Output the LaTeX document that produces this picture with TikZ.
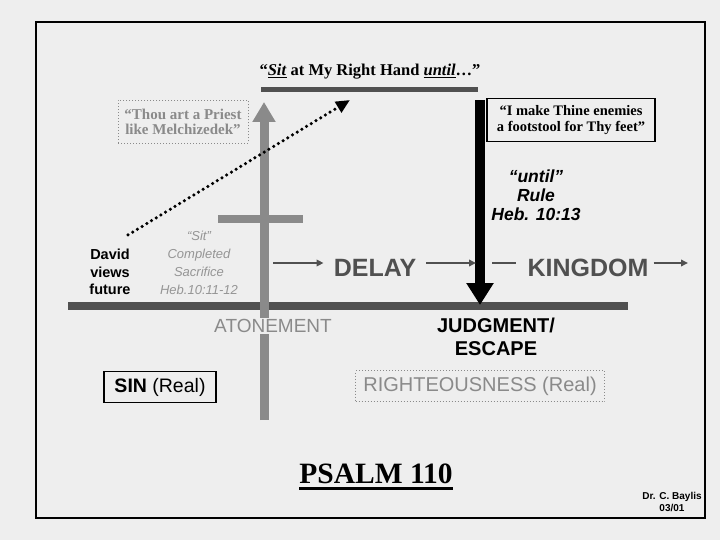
\documentclass[tikz,border=0pt]{standalone}
\usepackage{fontspec}
\setmainfont{Liberation Serif}
\setsansfont{Liberation Sans}
\usetikzlibrary{arrows.meta, positioning, calc}
\definecolor{cpaper}{HTML}{EEEEEE}
\definecolor{cdark}{HTML}{505050}
\definecolor{cmid}{HTML}{8A8A8A}
\definecolor{clight}{HTML}{959595}
\newcommand{\setfs}[2]{\fontsize{#1}{#2}\selectfont}
\tikzset{
  bar/.style={draw=#1, line width=8pt},
  bar/.default=cdark,
  flow/.style={-{Triangle[length=7pt, width=6.5pt]}, draw=cdark, line width=2pt},
  solidbox/.style={draw=black, line width=1.3pt, align=center, inner sep=0pt},
  dotbox/.style={draw=cmid, dotted, line width=1pt, align=center, inner sep=0pt},
  lab/.style={align=center, inner sep=2pt},
}

\begin{document}
\begin{tikzpicture}[x=1pt, y=-1pt]
  \useasboundingbox (0,0) rectangle (720,540);
  \fill[cpaper] (0,0) rectangle (720,540);
  \draw[line width=2pt] (36,22) rectangle (705,518);
  % ---------- top: sit at my right hand ----------
  \node[lab, anchor=base, font=\rmfamily\bfseries\setfs{16.5}{18}] (sit) at (370,76)
    {“\underline{\textit{Sit}} at My Right Hand \underline{\textit{until}}…”};
  \coordinate (handL) at (261,90);
  \coordinate (handR) at (478,90);
  \draw[bar, line width=5pt] (handL) -- (handR);
  \node[dotbox, text=cmid, font=\rmfamily\bfseries\setfs{15}{15.5}, minimum width=130pt, minimum height=43pt]
    (priest) at (183,122) {“Thou art a Priest\\like Melchizedek”};
  \node[solidbox, font=\rmfamily\bfseries\setfs{14.5}{16.5}, minimum width=168pt, minimum height=43pt]
    (stool) at (571,120) {“I make Thine enemies\\a footstool for Thy feet”};
  % ---------- horizontal line and the cross ----------
  \coordinate (barL) at (68,306);
  \coordinate (barR) at (628,306);
  \draw[bar] (barL) -- (barR);
  \coordinate (crossB) at (264,420);
  \coordinate (crossT) at (264,102);
  \coordinate (armL) at (218,219);
  \coordinate (armR) at (303,219);
  \draw[cmid, line width=9pt, -{Triangle[length=20pt, width=22pt]}] (crossB) -- (crossT);
  \draw[bar=cmid] (armL) -- (armR);
  % ---------- until: rule ----------
  \coordinate (ruleT) at (480,100);
  \coordinate (ruleB) at (480,305);
  \draw[black, line width=10pt, -{Triangle[length=22pt, width=26pt]}] (ruleT) -- (ruleB);
  \node[lab, font=\sffamily\bfseries\itshape\setfs{17.5}{19}] (until) at (536,195) {“until”\\Rule\\Heb. 10:13};
  % ---------- texts on the left ----------
  \node[lab, font=\sffamily\bfseries\setfs{14.5}{17.5}] (david) at (110,272) {David\\views\\future};
  \node[lab, text=clight, font=\sffamily\itshape\setfs{13}{18}] (sacrifice) at (199,263)
    {“Sit”\\Completed\\Sacrifice\\Heb.10:11-12};
  \coordinate (mel) at (350,100);
  \draw[dash pattern=on 0pt off 5.5pt, line cap=round, line width=3.5pt,
        -{Triangle[length=14pt, width=12pt]}] ([shift={(18,-12)}]david.north) -- (mel);
  % ---------- delay and kingdom ----------
  \node[lab, text=cdark, font=\sffamily\bfseries\setfs{25}{28}] (delay) at (375,268) {DELAY};
  \node[lab, text=cdark, font=\sffamily\bfseries\setfs{25}{28}] (kingdom) at (588,268) {KINGDOM};
  \coordinate (start) at (273,263);
  \coordinate (beyond) at (688,263);
  \draw[flow] (start) -- ([xshift=-8pt]start -| delay.west);
  \draw[flow, shorten <=8pt] (start -| delay.east) -- ([xshift=-4pt]start -| ruleT);
  \draw[cdark, line width=2pt] ([xshift=12pt]start -| ruleT) -- ([xshift=-9pt]start -| kingdom.west);
  \draw[flow, shorten <=3pt] (start -| kingdom.east) -- (beyond);
  % ---------- below the line ----------
  \node[lab, text=cmid, fill=cpaper, inner sep=1pt, font=\sffamily\setfs{19}{22}] (atone) at (273,326) {ATONEMENT};
  \node[lab, font=\sffamily\bfseries\setfs{20}{23}] (judge) at (496,337) {JUDGMENT/\\ESCAPE};
  \node[solidbox, font=\sffamily\setfs{19.5}{22}, minimum width=112pt, minimum height=31pt]
    (sin) at (160,387) {\textbf{SIN} (Real)};
  \node[dotbox, text=cmid, font=\sffamily\setfs{20}{22}, minimum width=249pt, minimum height=31pt]
    (right) at (480,386) {RIGHTEOUSNESS (Real)};
  % ---------- title and signature ----------
  \node[lab, anchor=base, inner sep=0pt, font=\rmfamily\bfseries\setfs{29.5}{30}] (psalm) at (376,483) {PSALM 110};
  \draw[line width=3pt] ([yshift=-5.5pt]psalm.base west) -- ([yshift=-5.5pt]psalm.base east);
  \node[lab, font=\sffamily\bfseries\setfs{10}{11.5}] (sign) at (672,502) {Dr. C. Baylis\\03/01};
\end{tikzpicture}
\end{document}
